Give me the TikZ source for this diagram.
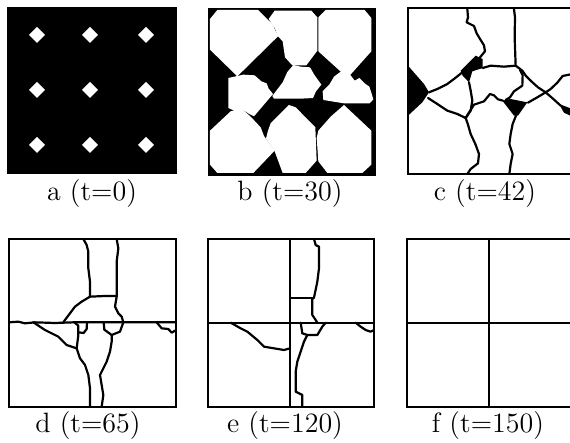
\documentclass[tikz,border=0pt]{standalone}
\usepackage{tikz}
\usepackage{xcolor}

\tikzset{
  frame/.style={draw=black, line width=1pt},
  gb/.style={draw=black, line width=1.1pt, line join=round, line cap=round},
  lbl/.style={font=\fontsize{14}{16}\selectfont, inner sep=0pt}
}

\begin{document}
\begin{tikzpicture}[x=0.5pt, y=-0.5pt]
				\useasboundingbox (0,0) rectangle (570,443);
				
				% Panel a: black sheet with nine seeds
				\fill[black] (7,7) rectangle (177,174);
				\foreach \x in {37,90,146}
				\foreach \y in {35,90,145}
				\fill[white] (\x-8,\y) -- (\x,\y-8) -- (\x+8,\y) -- (\x,\y+8) -- cycle;
				\node[lbl] (la) at (92,194) {a (t=0)};
				
				% Panel b: grown grains
				\begin{scope}[shift={(204,4)}, scale=1/3]
				\fill[black] (12,12) rectangle (515,515);
				\fill[white] (40,18) -- (162,18) -- (207,62) -- (214,80) -- (224,95) -- (100,217) -- (18,137) -- (18,45) -- cycle;
				\fill[white] (212,20) -- (322,20) -- (340,40) -- (340,140) -- (307,184) -- (265,184) -- (243,160) -- (236,112) -- (222,97) -- (212,72) -- (194,45) -- cycle;
				\fill[white] (365,18) -- (482,18) -- (502,42) -- (502,142) -- (435,217) -- (418,210) -- (343,142) -- (343,40) -- cycle;
				\fill[white] (73,222) -- (118,212) -- (152,214) -- (172,232) -- (188,238) -- (194,254) -- (207,270) -- (150,337) -- (136,330) -- (120,320) -- (100,324) -- (73,312) -- cycle;
				\fill[white] (205,276) -- (236,235) -- (250,204) -- (268,183) -- (290,188) -- (318,190) -- (332,214) -- (352,242) -- (336,262) -- (327,282) -- (290,284) -- (210,284) -- cycle;
				\fill[white] (356,262) -- (376,242) -- (390,218) -- (410,203) -- (440,214) -- (452,230) -- (466,222) -- (482,238) -- (496,248) -- (502,266) -- (508,286) -- (497,298) -- (420,298) -- (358,288) -- cycle;
				\fill[white] (80,322) -- (100,316) -- (122,322) -- (140,338) -- (170,370) -- (180,396) -- (196,418) -- (212,440) -- (148,507) -- (40,507) -- (18,482) -- (18,380) -- cycle;
				\fill[white] (255,303) -- (275,310) -- (334,370) -- (338,470) -- (305,507) -- (236,507) -- (212,442) -- (200,424) -- (186,404) -- (192,380) -- (200,358) -- cycle;
				\fill[white] (420,303) -- (502,380) -- (502,482) -- (475,507) -- (370,507) -- (343,472) -- (338,402) -- (343,380) -- (380,338) -- cycle;
				\end{scope}
				\node[lbl] (lb) at (290,194) {b (t=30)};
				
				% Panel c: grains touching
				\begin{scope}[shift={(404,4)}, scale=1/3]
				\fill[black] (12,185) -- (60,240) -- (75,265) -- (55,295) -- (12,335) -- cycle;
				\fill[black] (215,155) -- (236,165) -- (236,192) -- (205,202) -- (195,235) -- (176,215) -- (170,200) -- cycle;
				\fill[black] (295,290) -- (320,285) -- (370,295) -- (342,335) -- (330,335) -- cycle;
				\fill[black] (465,300) -- (505,315) -- (505,338) -- (480,326) -- cycle;
				\draw[gb] (190,15) -- (192,40) -- (188,55) -- (210,66) -- (218,88) -- (230,108) -- (240,124) -- (243,142) -- (228,160);
				\draw[gb] (330,15) -- (333,40) -- (332,100) -- (335,185);
				\draw[gb] (236,192) -- (260,185) -- (300,188) -- (335,185);
				\draw[gb] (335,185) -- (355,200) -- (366,216) -- (382,232) -- (402,250) -- (425,265);
				\draw[gb] (505,210) -- (476,216) -- (460,236) -- (440,255) -- (425,265);
				\draw[gb] (425,265) -- (448,285) -- (470,305);
				\draw[gb] (425,265) -- (400,280) -- (372,296);
				\draw[gb] (348,198) -- (356,214) -- (355,245) -- (330,262) -- (318,280) -- (305,288);
				\draw[gb] (75,265) -- (100,255) -- (130,240) -- (150,225) -- (175,205);
				\draw[gb] (72,282) -- (100,300) -- (130,320) -- (160,330) -- (185,342);
				\draw[gb] (195,235) -- (200,260) -- (205,290) -- (200,320) -- (185,342);
				\draw[gb] (185,342) -- (192,362) -- (200,390) -- (214,420) -- (225,450) -- (222,478) -- (200,495) -- (190,510);
				\draw[gb] (185,342) -- (210,302) -- (240,292) -- (258,270) -- (270,274) -- (282,286) -- (297,290);
				\draw[gb] (336,335) -- (326,360) -- (320,390) -- (316,420) -- (326,450) -- (320,480) -- (316,510);
				\draw[frame] (505,12) -- (12,12) -- (12,510) -- (505,510);
				\end{scope}
				\node[lbl] (lc) at (485,194) {c (t=42)};
				
				% Panel d: coarsening
				\begin{scope}[shift={(5,235)}, scale=1/3]
				\draw[frame] (12,12) rectangle (512,515);
				\draw[gb] (12,262) -- (40,260) -- (60,265) -- (90,262) -- (150,264) -- (205,262) -- (512,262);
				\draw[gb] (455,262) -- (470,280) -- (490,282) -- (500,293) -- (512,286);
				\draw[gb] (235,12) -- (245,30) -- (250,50) -- (250,100) -- (255,140) -- (255,185);
				\draw[gb] (335,12) -- (340,40) -- (335,80) -- (335,140) -- (335,185);
				\draw[gb] (255,185) -- (300,183) -- (335,183);
				\draw[gb] (255,185) -- (230,200) -- (210,215) -- (195,235) -- (180,255) -- (175,262);
				\draw[gb] (335,185) -- (330,215) -- (340,235) -- (350,245) -- (355,262);
				\draw[gb] (85,262) -- (120,285) -- (160,305) -- (185,330) -- (215,340);
				\draw[gb] (208,262) -- (220,272) -- (220,300) -- (215,340);
				\draw[gb] (220,292) -- (236,294) -- (245,282) -- (246,262);
				\draw[gb] (215,340) -- (225,370) -- (240,390) -- (250,420) -- (255,460) -- (255,515);
				\draw[gb] (296,262) -- (298,284) -- (320,300) -- (345,290) -- (355,262);
				\draw[gb] (320,300) -- (320,320) -- (315,350) -- (305,380) -- (295,400) -- (285,420) -- (290,450) -- (295,480) -- (290,515);
				\end{scope}
				\node[lbl] (ld) at (88,426) {d (t=65)};
				
				% Panel e: almost four grains
				\begin{scope}[shift={(204,235)}, scale=1/3]
				\draw[frame] (12,12) rectangle (510,515);
				\draw[gb] (258,12) -- (258,515);
				\draw[gb] (12,263) -- (510,263);
				\draw[gb] (330,12) -- (335,30) -- (345,35) -- (345,100) -- (340,140) -- (330,188) -- (325,192) -- (325,240) -- (335,255) -- (340,263);
				\draw[gb] (258,188) -- (325,188);
				\draw[gb] (80,263) -- (110,280) -- (130,290) -- (160,315) -- (180,335) -- (210,340) -- (240,345) -- (258,340);
				\draw[gb] (290,263) -- (295,295) -- (310,300) -- (340,300) -- (355,275) -- (365,263);
				\draw[gb] (310,300) -- (300,320) -- (290,350) -- (280,380) -- (275,410) -- (275,470) -- (295,480) -- (295,515);
				\draw[gb] (455,263) -- (470,275) -- (485,285) -- (500,290) -- (510,285);
				\end{scope}
				\node[lbl] (le) at (285,426) {e (t=120)};
				
				% Panel f: four grains
				\draw[frame] (572,239) -- (407,239) -- (407,407) -- (572,407);
				\draw[gb] (489,239) -- (489,407);
				\draw[gb] (407,323) -- (572,323);
				\node[lbl] (lf) at (488,426) {f (t=150)};
			\end{tikzpicture}
\end{document}
